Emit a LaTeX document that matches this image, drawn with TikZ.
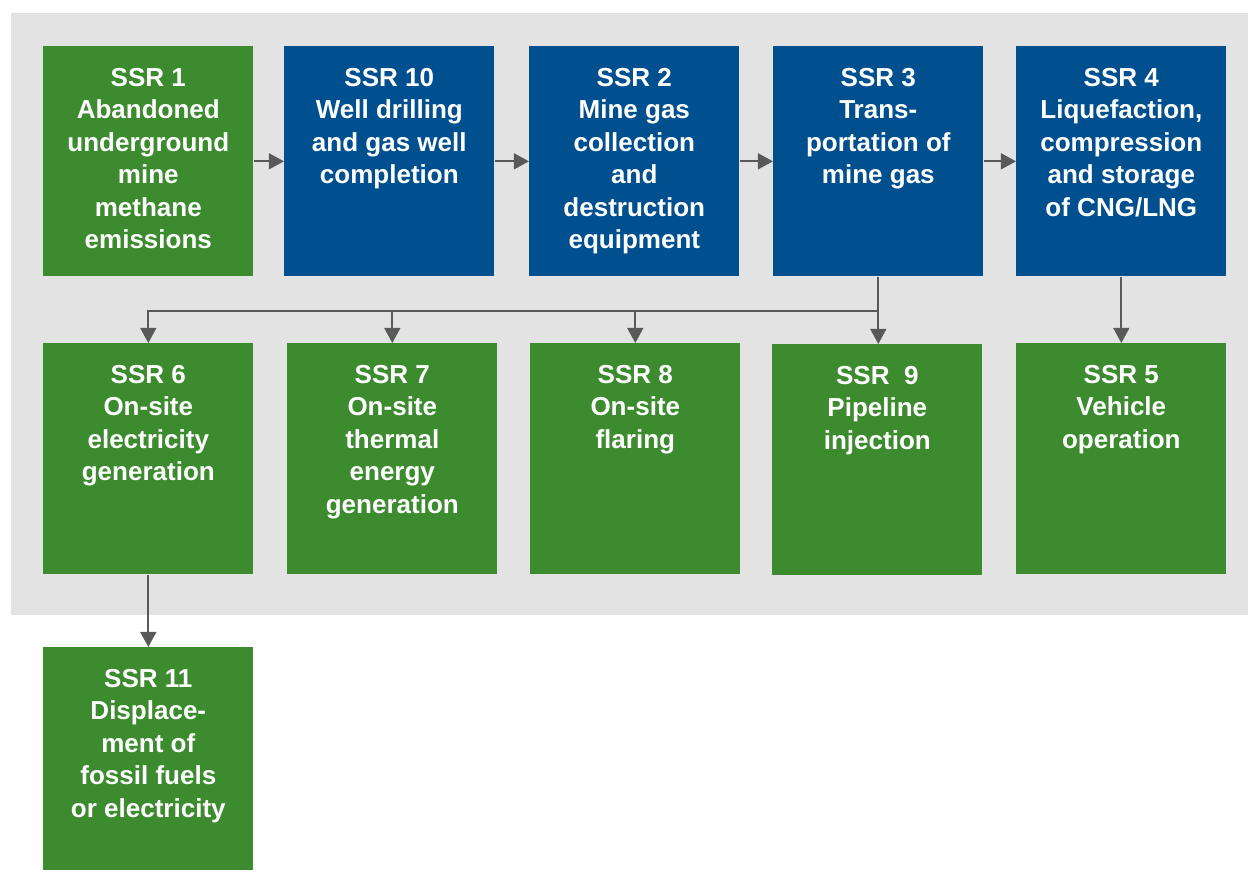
\documentclass[tikz,border=0pt]{standalone}
\usepackage{fontspec}
\setmainfont{Liberation Sans}
\usetikzlibrary{arrows.meta}
\definecolor{ssrgreen}{HTML}{3D8B2F}
\definecolor{ssrblue}{HTML}{00508F}
\definecolor{bggray}{HTML}{E3E3E3}
\definecolor{arrowgray}{HTML}{595959}
\begin{document}
\begin{tikzpicture}[x=0.025cm,y=-0.025cm,
    ssrbox/.style={rectangle,fill=#1,anchor=north west,inner sep=0pt,
                   minimum width=5.25cm,minimum height=5.75cm},
    ssrtext/.style={anchor=north,align=center,inner sep=0pt,yshift=-0.55cm,
                    text=white,font=\fontsize{18.5}{23.1}\selectfont\bfseries},
    flow/.style={draw=arrowgray,line width=1.4pt,
                 -{Triangle[length=0.38cm,width=0.4cm]}}]
  \useasboundingbox (0,0) rectangle (1248,871);
  % Draw background
  \fill[bggray] (11,13) rectangle (1248,615);
  % Draw top row
  \node[ssrbox=ssrgreen] (s1)  at (43,46)   {};
  \node[ssrbox=ssrblue]  (s10) at (284,46)  {};
  \node[ssrbox=ssrblue]  (s2)  at (529,46)  {};
  \node[ssrbox=ssrblue]  (s3)  at (773,46)  {};
  \node[ssrbox=ssrblue]  (s4)  at (1016,46) {};
  % Draw bottom row
  \node[ssrbox=ssrgreen,minimum height=5.775cm] (s6) at (43,343)   {};
  \node[ssrbox=ssrgreen,minimum height=5.775cm] (s7) at (287,343)  {};
  \node[ssrbox=ssrgreen,minimum height=5.775cm] (s8) at (530,343)  {};
  \node[ssrbox=ssrgreen,minimum height=5.775cm] (s9) at (772,344)  {};
  \node[ssrbox=ssrgreen,minimum height=5.775cm] (s5) at (1016,343) {};
  \node[ssrbox=ssrgreen,minimum height=5.575cm] (s11) at (43,647)  {};
  % Draw labels
  \node[ssrtext] at (s1.north)  {SSR 1\\Abandoned\\underground\\mine\\methane\\emissions};
  \node[ssrtext] at (s10.north) {SSR 10\\Well drilling\\and gas well\\completion};
  \node[ssrtext] at (s2.north)  {SSR 2\\Mine gas\\collection\\and\\destruction\\equipment};
  \node[ssrtext] at (s3.north)  {SSR 3\\Trans-\\portation of\\mine gas};
  \node[ssrtext] at (s4.north)  {SSR 4\\Liquefaction,\\compression\\and storage\\of CNG/LNG};
  \node[ssrtext] at (s6.north)  {SSR 6\\On-site\\electricity\\generation};
  \node[ssrtext] at (s7.north)  {SSR 7\\On-site\\thermal\\energy\\generation};
  \node[ssrtext] at (s8.north)  {SSR 8\\On-site\\flaring};
  \node[ssrtext] at (s9.north)  {SSR\ \ 9\\Pipeline\\injection};
  \node[ssrtext] at (s5.north)  {SSR 5\\Vehicle\\operation};
  \node[ssrtext] at (s11.north) {SSR 11\\Displace-\\ment of\\fossil fuels\\or electricity};
  % Draw arrows
  \draw[flow] (s1)  -- (s10);
  \draw[flow] (s10) -- (s2);
  \draw[flow] (s2)  -- (s3);
  \draw[flow] (s3)  -- (s4);
  \coordinate (split) at (878,311);
  \draw[flow] (s3.south) -- (s3.south |- s9.north);
  \draw[flow] (split) -| (s6.north);
  \draw[flow] (split) -| (s7.north);
  \draw[flow] (split) -| (s8.north);
  \draw[flow] (s4) -- (s5);
  \draw[flow] (s6) -- (s11);
\end{tikzpicture}
\end{document}
